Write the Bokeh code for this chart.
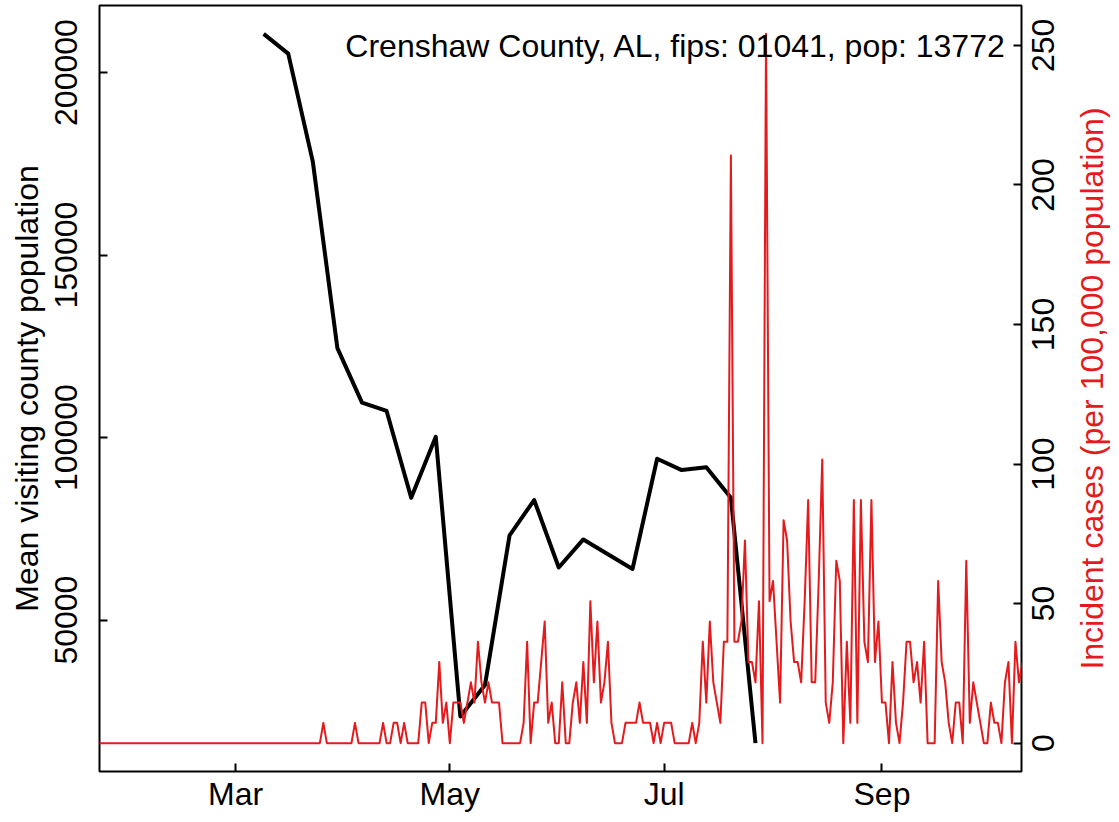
import math
import pandas as pd
from bokeh.plotting import figure
from bokeh.layouts import row
from bokeh.models import (Range1d, LinearAxis, FixedTicker, Label,
                          DatetimeTickFormatter, BasicTickFormatter)
from bokeh.core.properties import value
from bokeh.embed import file_html
from bokeh.resources import INLINE

# ---------------- data ----------------
county_label = "Crenshaw County, AL, fips: 01041, pop: 13772"
left_axis_title = "Mean visiting county population"
right_axis_title = "Incident cases (per 100,000 population)"

# weekly mean visiting county population (black line)
visit_dates = ["2020-03-09", "2020-03-16", "2020-03-23", "2020-03-30", "2020-04-06",
               "2020-04-13", "2020-04-20", "2020-04-27", "2020-05-04", "2020-05-11",
               "2020-05-18", "2020-05-25", "2020-06-01", "2020-06-08", "2020-06-22",
               "2020-06-29", "2020-07-06", "2020-07-13", "2020-07-20", "2020-07-27"]
visit_values = [210600, 205200, 175600, 124500, 109600,
                107300, 83500, 100200, 23600, 32200,
                73200, 82900, 64400, 72100, 64000,
                94200, 91100, 91900, 83500, 16300]

# daily incident cases per 100,000 population (red line), starting 2020-01-22
case_start = "2020-01-22"
case_values = [
    0, 0, 0, 0, 0, 0, 0, 0, 0, 0,
    0, 0, 0, 0, 0, 0, 0, 0, 0, 0,
    0, 0, 0, 0, 0, 0, 0, 0, 0, 0,
    0, 0, 0, 0, 0, 0, 0, 0, 0, 0,
    0, 0, 0, 0, 0, 0, 0, 0, 0, 0,
    0, 0, 0, 0, 0, 0, 0, 0, 0, 0,
    0, 0, 0, 0,
    7.26, 0, 0, 0, 0, 0, 0, 0, 0, 7.26,
    0, 0, 0, 0, 0, 0, 0, 7.26, 0, 0,
    7.26, 7.26, 0, 7.26, 0, 0, 0, 0, 14.52, 14.52,
    0, 7.26, 7.26, 29.04, 7.26, 14.52, 0, 14.52, 14.52, 14.52,
    7.26, 14.52, 21.78, 14.52, 36.31, 21.78, 14.52, 21.78, 14.52, 14.52,
    14.52, 0, 0, 0, 0, 0, 0, 7.26, 36.31, 0,
    14.52, 14.52, 29.04, 43.57, 7.26, 14.52, 0, 0, 21.78, 0,
    0, 14.52, 21.78, 7.26, 29.04, 7.26, 50.83, 21.78, 43.57, 14.52,
    21.78, 36.31, 7.26, 0, 0, 0, 7.26, 7.26, 7.26, 7.26,
    14.52, 7.26, 7.26, 7.26, 0, 7.26, 0, 7.26, 7.26, 7.26,
    0, 0, 0, 0, 0, 7.26, 0, 7.26, 36.31, 14.52,
    43.57, 21.78, 14.52, 7.26, 36.31, 36.31, 210.57, 36.31, 36.31, 43.57,
    72.61, 29.04, 29.04, 21.78, 50.83, 0, 254.14, 50.83, 58.09, 36.31,
    14.52, 79.87, 72.61, 43.57, 29.04, 29.04, 21.78, 50.83, 87.13, 21.78,
    21.78, 58.09, 101.66, 14.52, 7.26, 21.78, 65.35, 58.09, 0, 36.31,
    7.26, 87.13, 7.26, 87.13, 36.31, 29.04, 87.13, 29.04, 43.57, 14.52,
    14.52, 0, 29.04, 7.26, 0, 14.52, 36.31, 36.31, 21.78, 29.04,
    14.52, 36.31, 0, 0, 0, 58.09, 29.04, 21.78, 7.26, 0,
    14.52, 14.52, 0, 65.35, 7.26, 21.78, 14.52, 7.26, 0, 0,
    14.52, 7.26, 7.26, 0, 21.78, 29.04, 0, 36.31, 21.78, 29.04,
]

month_ticks = ["2020-03-01", "2020-05-01", "2020-07-01", "2020-09-01"]
month_labels = ["Mar", "May", "Jul", "Sep"]
left_ticks = [50000, 100000, 150000, 200000]
right_ticks = [0, 50, 100, 150, 200, 250]
right_tick_labels = ["0", "50", "100", "150", "200", "250"]
x_limits = ["2020-02-01", "2020-10-01"]

# ---------------- style ----------------
RED = "#E41A1C"
FONT = "Liberation Sans"
FS = "32px"
TOP, BOTTOM = 5, 43


def ms(d):
    return pd.Timestamp(d).value / 1e6


def padded(lo, hi, frac=0.04):
    r = hi - lo
    return lo - frac * r, hi + frac * r


x0, x1 = padded(ms(x_limits[0]), ms(x_limits[1]))
y0, y1 = padded(min(visit_values), max(visit_values))
c0, c1 = padded(min(case_values), max(case_values))

visit_x = pd.to_datetime(visit_dates)
case_x = pd.date_range(case_start, periods=len(case_values), freq="D")

# ---------------- main panel ----------------
p = figure(width=1023, height=814, x_axis_type="datetime",
           x_range=Range1d(x0, x1), y_range=Range1d(y0, y1),
           output_backend="svg", toolbar_location=None,
           min_border_left=99, min_border_right=2,
           min_border_top=TOP, min_border_bottom=BOTTOM)
p.extra_y_ranges = {"cases": Range1d(c0, c1)}

p.xgrid.visible = False
p.ygrid.visible = False
p.background_fill_color = "white"
p.border_fill_color = "white"
p.outline_line_color = "black"
p.outline_line_width = 2
p.outline_line_alpha = 1.0

p.line(visit_x, visit_values, line_color="black", line_width=4, line_join="round")
p.line(case_x, case_values, line_color=RED, line_width=2, line_join="round",
       y_range_name="cases")

right_axis = LinearAxis(y_range_name="cases")
p.add_layout(right_axis, "right")


def style(ax):
    ax.axis_line_color = None
    ax.major_tick_in = 8
    ax.major_tick_out = 0
    ax.major_tick_line_width = 2
    ax.major_tick_line_color = "black"
    ax.minor_tick_line_color = None
    ax.major_label_text_font = FONT
    ax.major_label_text_font_size = FS
    ax.major_label_text_color = "black"
    ax.axis_label_text_font = FONT
    ax.axis_label_text_font_size = FS
    ax.axis_label_text_font_style = "normal"
    ax.axis_label_text_color = "black"


xa = p.xaxis[0]
style(xa)
xa.ticker = FixedTicker(ticks=[ms(t) for t in month_ticks])
xa.formatter = DatetimeTickFormatter(months="%b", days="%b")
xa.major_label_overrides = {ms(t): lab for t, lab in zip(month_ticks, month_labels)}
xa.major_label_standoff = 4

ya = p.yaxis[0]
style(ya)
ya.ticker = FixedTicker(ticks=left_ticks)
ya.formatter = BasicTickFormatter(use_scientific=False)
ya.major_label_orientation = "vertical"
ya.major_label_standoff = 22
ya.axis_label = left_axis_title
ya.axis_label_standoff = 8

# right axis: inward ticks only; its rotated texts are drawn in the side panel
style(right_axis)
right_axis.ticker = FixedTicker(ticks=right_ticks)
right_axis.major_label_overrides = {v: "" for v in right_ticks}
right_axis.major_label_standoff = 0

p.add_layout(Label(x=x1, y=y1, x_offset=-15, y_offset=-40, text=county_label,
                   text_align="right", text_baseline="middle",
                   text_font=FONT, text_font_size=FS, text_color="black"))

# ---------------- right side panel (rotated right-axis texts) ----------------
side = figure(width=88, height=814, x_range=Range1d(0, 88), y_range=Range1d(c0, c1),
              output_backend="svg", toolbar_location=None,
              x_axis_location=None, y_axis_location=None,
              min_border_left=0, min_border_right=0,
              min_border_top=TOP, min_border_bottom=BOTTOM)
side.xgrid.visible = False
side.ygrid.visible = False
side.outline_line_color = None
side.background_fill_color = "white"
side.border_fill_color = "white"

side.text(x=[8] * len(right_ticks), y=right_ticks, text=right_tick_labels,
          angle=math.pi / 2, text_align="center", text_baseline="top",
          text_font=value(FONT), text_font_size=value(FS), text_color="black")
side.text(x=[50], y=[(c0 + c1) / 2], text=[right_axis_title],
          angle=math.pi / 2, text_align="center", text_baseline="top",
          text_font=value(FONT), text_font_size=value(FS), text_color=RED)

layout = row(p, side)
open("out.html", "w").write(file_html(layout, INLINE))
